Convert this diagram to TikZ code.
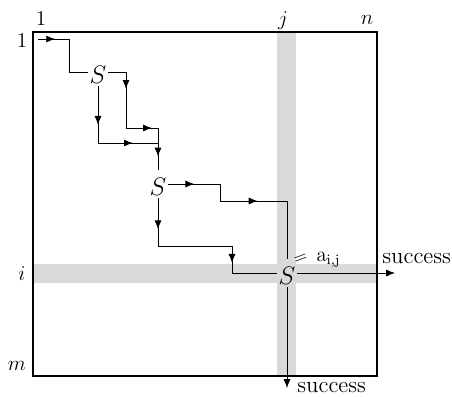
\documentclass[tikz,border=0pt]{standalone}
\usetikzlibrary{arrows.meta,decorations.markings}
\begin{document}
\begin{tikzpicture}[x=0.02cm,y=-0.02cm,
  wire/.style={line width=0.45pt},
  arr/.style={postaction={decorate},decoration={markings,mark=at position #1 with {\arrow{Latex[length=5pt,width=4pt]}}}},
  band/.style={fill=black!15},
  snode/.style={inner sep=1pt,font=\fontsize{15.5}{18}\selectfont,text height=13.6pt,text depth=0pt},
  lab/.style={font=\large,inner sep=0pt,anchor=base},
  succ/.style={font=\fontsize{13}{15}\selectfont,inner sep=0pt,anchor=base west},
  endarrow/.style={wire,-{Latex[length=5pt,width=4pt]}}]
\useasboundingbox (0,0) rectangle (452,396);
% bands
\fill[band] (277,32) rectangle (296,376);
\fill[band] (33,264) rectangle (377,283);
% frame
\draw[line width=1.3pt] (33,32) rectangle (377,376);
% labels
\node[lab] (c1) at (41,25) {$1$};
\node[lab] (cj) at (283,25) {$j$};
\node[lab] (cn) at (367,24) {$n$};
\node[lab] (r1) at (22,47) {$1$};
\node[lab] (ri) at (22,280) {$i$};
\node[lab] (rm) at (17,370) {$m$};
% S nodes
\node[snode] (s1) at (98,72) {$S$};
\node[snode] (s2) at (158,184) {$S$};
\node[snode] (s3) at (287,273) {$S$};
\coordinate (p0) at (38,39);
% paths
\draw[wire,arr=0.55] (p0) -- (69,39);
\draw[wire] (69,39) |- (s1);
\draw[wire] (s1) -- (126,72);
\draw[wire,arr=0.3] (126,72) -- (126,128);
\draw[wire,arr=0.55] (126,128) -- (158,128) -- (158,143);
\draw[wire,arr=0.68] (s1) -- (98,143);
\draw[wire,arr=0.58] (98,143) -- (158,143);
\draw[wire,arr=0.5] (158,143) -- (s2);
\draw[wire,arr=0.5] (s2) -- (220,184);
\draw[wire] (220,184) -- (220,201);
\draw[wire,arr=0.56] (220,201) -- (287,201);
\draw[wire] (287,201) -- (s3);
\draw[wire,arr=0.65] (s2) -- (158,246);
\draw[wire] (158,246) -- (232,246);
\draw[wire,arr=0.62] (232,246) -- (232,273);
\draw[wire] (232,273) -- (s3);
\coordinate (eR) at (395,273);
\coordinate (eD) at (287,388);
\draw[endarrow] (s3) -- (eR);
\draw[endarrow] (s3) -- (eD);
\node[succ] (succR) at (382,263) {success};
\node[succ] (succD) at (297,392) {success};
\node[rotate=20,inner sep=0pt] (eq) at (301,259.5) {$=$};
\node[inner sep=0pt,anchor=base west,font=\large] (aij) at (316,261) {$\mathrm{a}_{\mathrm{i,j}}$};
\end{tikzpicture}
\end{document}
